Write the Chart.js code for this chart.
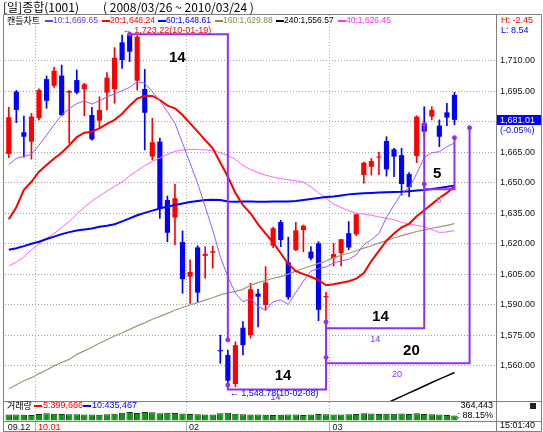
<!DOCTYPE html>
<html>
<head>
<meta charset="utf-8">
<script src="https://cdn.jsdelivr.net/npm/chart.js@4.4.1/dist/chart.umd.min.js"></script>
<style>
  html, body { margin: 0; padding: 0; background: #fff; }
  #wrap { position: relative; width: 543px; height: 432px; }
</style>
</head>
<body>
<div id="wrap"><canvas id="priceChart" width="543" height="432"></canvas></div>
<script>
// ---- data ----
const labels = [
  '09.12.24','09.12.28','09.12.29','09.12.30',
  '10.01.04','10.01.05','10.01.06','10.01.07','10.01.08','10.01.11','10.01.12','10.01.13','10.01.14','10.01.15',
  '10.01.18','10.01.19','10.01.20','10.01.21','10.01.22','10.01.25','10.01.26','10.01.27','10.01.28','10.01.29',
  '10.02.01','10.02.02','10.02.03','10.02.04','10.02.05','10.02.08','10.02.09','10.02.10','10.02.11','10.02.12',
  '10.02.16','10.02.17','10.02.18','10.02.19','10.02.22','10.02.23','10.02.24','10.02.25','10.02.26',
  '10.03.02','10.03.03','10.03.04','10.03.05','10.03.08','10.03.09','10.03.10','10.03.11','10.03.12',
  '10.03.15','10.03.16','10.03.17','10.03.18','10.03.19','10.03.22','10.03.23','10.03.24',
  '10.03.25','10.03.26','10.03.29','10.03.30','10.03.31'
]

const open  = [1664.2,1694.9,1674.9,1670.3,1681.8,1701.1,1697.8,1702.8,1694.4,1700.6,1696.1,1683.4,1680.6,1694.4,1696.1,1719.2,1722.8,1700.3,1696.2,1662.9,
               1670.3,1641.5,1632.9,1620.8,1603.8,1618.2,1614.0,1615.6,1567.6,1565.2,1550.9,1578.6,1575.0,1595.4,1589.8,1619.0,1630.7,1610.8,1616.9,1626.7,
               1616.1,1620.2,1593.6,1612.8,1615.3,1625.2,1624.6,1653.8,1657.9,1662.4,1670.6,1666.5,1663.6,1654.3,1663.2,1679.3,1682.6,1678.2,1684.7,1693.3]
const high  = [1687.2,1695.5,1682.9,1684.2,1696.3,1702.6,1706.9,1708.0,1695.5,1705.6,1699.0,1687.2,1692.4,1704.3,1716.6,1722.8,1723.22,1722.5,1705.9,1681.8,
               1672.0,1643.5,1649.4,1626.3,1612.0,1619.0,1618.5,1618.8,1575.0,1567.6,1571.7,1581.6,1600.5,1597.5,1608.7,1628.2,1631.5,1623.2,1630.5,1629.2,
               1618.6,1621.0,1596.0,1620.2,1622.2,1630.9,1634.5,1660.2,1662.0,1665.0,1672.7,1667.0,1667.0,1655.0,1683.0,1687.5,1687.5,1681.0,1689.2,1694.6]
const low   = [1662.4,1679.6,1662.6,1661.6,1681.0,1686.7,1697.0,1683.0,1669.5,1693.8,1683.0,1671.0,1676.8,1685.9,1689.2,1706.4,1709.7,1695.7,1666.2,1661.2,
               1632.5,1621.0,1619.4,1595.6,1590.6,1591.4,1603.0,1607.9,1561.1,1548.78,1549.5,1565.2,1573.5,1579.0,1587.3,1618.0,1618.5,1592.6,1616.5,1616.0,
               1612.0,1582.1,1581.6,1609.0,1609.0,1617.0,1624.0,1649.8,1653.8,1654.0,1653.3,1653.0,1644.0,1643.2,1659.9,1672.7,1681.0,1667.8,1678.2,1678.5]
const close = [1682.3,1685.9,1672.7,1682.6,1695.7,1690.4,1705.2,1683.4,1695.2,1694.4,1698.5,1671.4,1685.9,1701.8,1711.6,1710.5,1714.6,1722.0,1684.5,1670.0,
               1637.4,1625.4,1642.4,1602.5,1606.1,1595.9,1615.0,1616.3,1567.0,1552.5,1570.0,1570.0,1597.5,1593.9,1600.8,1627.6,1621.8,1593.6,1626.6,1628.9,
               1612.8,1587.4,1594.2,1614.9,1622.2,1618.1,1634.5,1659.9,1660.7,1662.9,1656.6,1662.9,1649.4,1647.8,1682.6,1675.2,1685.9,1672.7,1682.1,1681.01]

const ma10 = [1659,1662,1663,1664,1668.5,1673.5,1678.5,1683.5,1686.5,1689,1690.3,1688.8,1690.4,1692.4,1693.7,1695.4,1697,1699.8,1699,1694.9,
              1690.3,1685,1679.3,1669.5,1659.6,1649.8,1638.2,1626.7,1613.6,1603.7,1595.6,1591.4,1593,1589,1587.3,1591.4,1592.3,1590,1596,1601.5,
              1606.5,1607.7,1608.5,1610.5,1611.5,1612.3,1614.5,1619.5,1622,1625,1633,1639,1644.8,1647.5,1654.5,1662.5,1664.8,1665.3,1667.8,1669.65]
const ma20 = [1632,1638,1646.5,1650.5,1655.5,1658.8,1662,1664.8,1668.5,1672.5,1674.7,1675.2,1676.8,1679,1681,1684,1688,1691.5,1692.8,1692.8,
              1690.8,1688,1686.7,1683.4,1679.3,1675.2,1671,1667,1660,1653,1645,1639,1635,1629.5,1625,1620.5,1615.3,1610,1606.5,1605,
              1603.7,1602,1599.5,1600,1600.8,1601.5,1602.8,1605.5,1611.5,1616.5,1621.5,1625,1628,1629.8,1633.5,1636.5,1639.5,1642.5,1645,1648.24]
const ma60 = [1617,1617.8,1618.8,1620,1621,1622.3,1623.5,1624.7,1625.7,1626.5,1627,1627.5,1628.3,1628.8,1629.6,1631,1632.5,1634,1635.2,1636.3,
              1637.3,1638.3,1639,1639.8,1640.5,1641,1641.5,1641.6,1641.5,1640.8,1640.7,1640.8,1640.8,1640.7,1640.7,1640.8,1640.8,1640.8,1641,1641.5,
              1642,1642.5,1643,1643.3,1643.8,1644.3,1644.6,1644.8,1645,1645.2,1645.4,1645.5,1645.6,1645.8,1646.2,1646.5,1647,1647.5,1648,1648.61]
const ma160 = [1548.5,1550.5,1552.5,1554,1556,1557.8,1559.8,1561.5,1563,1565.5,1567.2,1569,1571,1572.7,1574.5,1576,1577.8,1579.5,1581,1582.8,
               1584.2,1585.7,1587.2,1588.6,1589.8,1591,1592.2,1593.4,1594.8,1595.8,1596.5,1597.5,1599.5,1600.8,1601.8,1603,1603.8,1605,1606.5,1607.8,
               1609,1610.3,1611.5,1613,1614.3,1615.3,1616.5,1617.8,1619,1620.3,1621.5,1622.8,1624,1625,1626,1626.8,1627.6,1628.3,1629,1629.88]
const ma240 = [null,null,null,null,null,null,null,null,null,null,null,null,null,null,null,null,null,null,null,null,
               null,null,null,null,null,null,null,null,null,null,null,null,null,null,null,null,null,null,null,null,
               null,null,null,null,null,null,null,1536.5,1538,1539.7,1541.4,1543.1,1544.8,1546.5,1548.2,1549.9,1551.6,1553.3,1554.9,1556.57]
const ma40 = [1609,1611,1613.5,1617,1620,1622.5,1625,1628,1631,1634.5,1638,1641,1643.5,1646,1648.2,1650.5,1653.5,1656,1658.5,1660.5,
              1662.3,1664,1665.5,1666.2,1666.5,1666.4,1666.2,1665.8,1664.8,1663.5,1661.5,1658.5,1656.5,1655,1653.8,1652.8,1652,1651.5,1651,1650.3,
              1648,1645,1642.5,1639.5,1637.8,1636.2,1635,1634.6,1634,1633.2,1632.5,1631.8,1630.5,1629.8,1629,1628.4,1627,1625.5,1625.8,1626.45]

// volume in thousands of shares
const volume = [420,430,410,400,470,520,480,460,450,440,430,420,410,450,480,560,600,540,610,590,
                520,560,540,500,470,450,430,420,520,560,480,440,430,420,410,400,410,430,420,400,
                420,470,440,420,430,440,460,520,500,470,490,480,500,470,510,460,450,420,400,364]

const yTicks = [1560,1575,1590,1605,1620,1635,1650,1665,1680,1695,1710]
const xTickIdx = [0, 4, 24, 43]
const xTickText = ['09.12', '10.01', '02', '03']

// cycle count drawings (category index / price)
const cycleIdx   = [[16,29,29],[29,29,42,42],[42,42,55,55],[42,42,61,61],[55,55,59,59]]
const cyclePrice = [[1723.22,1723.22,1572.6],[1550.4,1548.2,1548.2,1581.4],[1581.4,1578.3,1578.3,1678.8],[1564.0,1561.1,1561.1,1677.1],[1649.4,1646.8,1646.8,1672.2]]
const dotIdx   = [16,29,29,42,42,55,55,59,61]
const dotPrice = [1723.22,1572.6,1550.4,1581.4,1564.0,1678.8,1649.4,1672.2,1677.1]
const countText  = ['14','14','14','20','5']
const countIdx   = [22.3,36.3,49.2,53.3,56.7]
const countPrice = [1711.7,1554.8,1584,1567,1654.3]
const smallText  = ['14','14','20','5']
const smallIdx   = [35.3,48.5,51.4,57.0]
const smallPrice = [1544,1573,1555.8,1641.5]

// ---- chart ----
const KR = '"Noto Sans CJK KR", sans-serif'
const NUM = '"Liberation Sans", Arial, sans-serif'
const UP = '#FF0000', DOWN = '#0000FF', CYC = '#9030F0'
const candleColor = open.map((o, i) => close[i] >= o ? UP : DOWN)

const fmt = v => v.toLocaleString('en-US', { minimumFractionDigits: 2, maximumFractionDigits: 2 })

function maLine(data, color, width, order) {
  return { type: 'line', data: data, borderColor: color, borderWidth: width, pointRadius: 0,
           tension: 0, order: order, yAxisID: 'y', clip: { left: 0, top: 0, right: 0, bottom: -20 } }
}

const datasets = [
  { type: 'bar', data: low.map((l, i) => [l, high[i]]), backgroundColor: candleColor, barThickness: 1,
    grouped: false, order: 21, yAxisID: 'y' },
  { type: 'bar', data: open.map((o, i) => [o, close[i]]), backgroundColor: candleColor, barPercentage: 0.68,
    categoryPercentage: 1, grouped: false, minBarLength: 1, order: 20, yAxisID: 'y' },
  { type: 'bar', data: volume, backgroundColor: '#0A9A0A', borderColor: '#123A12', borderWidth: 1,
    barPercentage: 0.85, categoryPercentage: 1, grouped: false, order: 22, yAxisID: 'yv' },
  maLine(ma160, '#9C9A78', 1.2, 12),
  maLine(ma40, '#FF66FF', 1, 11),
  maLine(ma240, '#000000', 1.5, 10),
  maLine(ma60, '#0000FF', 2, 9),
  maLine(ma20, '#FF0000', 2, 8),
  maLine(ma10, '#9A5CF5', 1, 7)
]
cycleIdx.forEach((idx, k) => {
  datasets.push({ type: 'line', data: idx.map((ix, j) => ({ x: labels[ix], y: cyclePrice[k][j] })),
    borderColor: CYC, borderWidth: 2, pointRadius: 0, tension: 0, order: 2, yAxisID: 'y' })
})
datasets.push({ type: 'line', data: dotIdx.map((ix, j) => ({ x: labels[ix], y: dotPrice[j] })),
  showLine: false, pointRadius: 2, pointBackgroundColor: CYC, pointBorderColor: CYC, order: 1, yAxisID: 'y' })

const deco = {
  id: 'deco',
  beforeDraw(chart) {
    const ctx = chart.ctx
    ctx.save()
    ctx.fillStyle = '#fff'
    ctx.fillRect(0, 0, chart.width, chart.height)
    ctx.restore()
  },
  afterDraw(chart) {
    const ctx = chart.ctx
    const x = chart.scales.x, y = chart.scales.y
    ctx.save()
    // frame
    ctx.strokeStyle = '#808080'
    ctx.lineWidth = 1
    ctx.beginPath()
    ctx.moveTo(3.5, 14.5); ctx.lineTo(541.5, 14.5)
    ctx.moveTo(3.5, 14.5); ctx.lineTo(3.5, 431.5)
    ctx.moveTo(541.5, 14.5); ctx.lineTo(541.5, 431.5)
    ctx.moveTo(3.5, 431.5); ctx.lineTo(541.5, 431.5)
    ctx.moveTo(496.5, 14.5); ctx.lineTo(496.5, 431.5)
    ctx.moveTo(3.5, 401.5); ctx.lineTo(541.5, 401.5)
    ctx.moveTo(3.5, 421.5); ctx.lineTo(541.5, 421.5)
    ctx.stroke()

    ctx.textBaseline = 'middle'
    // title
    ctx.fillStyle = '#000'
    ctx.font = '12px ' + KR
    ctx.fillText('[일]종합(1001)', 3, 7)
    ctx.fillText('( 2008/03/26 ~ 2010/03/24 )', 103, 7)

    // legend row
    ctx.font = '9px ' + KR
    ctx.fillText('캔들차트', 7, 21)
    const leg = [['10:1,669.65', '#6A3CF0', 45], ['20:1,648.24', '#FF0000', 102], ['60:1,648.61', '#0000FF', 158],
                 ['160:1,629.88', '#8A8A50', 215], ['240:1,556.57', '#000000', 276], ['40:1,626.45', '#FF33FF', 338]]
    ctx.font = '8.5px ' + NUM
    leg.forEach(([t, c, lx]) => {
      ctx.fillStyle = c
      ctx.fillRect(lx, 20, 8, 2)
      ctx.fillText(t, lx + 8, 21)
    })
    ctx.font = '9px ' + NUM
    ctx.fillStyle = '#FF0000'
    ctx.fillText('H: -2.45', 501, 21)
    ctx.fillStyle = '#0000FF'
    ctx.fillText('L: 8.54', 501, 31)

    // last price box
    ctx.fillStyle = '#0000FF'
    ctx.fillRect(497, 115, 44, 10)
    ctx.fillStyle = '#FFFFFF'
    ctx.fillText(fmt(close[close.length - 1]), 500, 120.5)
    ctx.fillStyle = '#0000FF'
    ctx.fillText('(-0.05%)', 500, 131)

    // high / low labels
    ctx.fillStyle = '#FF0000'
    ctx.fillText('\u2190 ' + fmt(1723.22) + '(10-01-19)', x.getPixelForValue(16) - 7, 31)
    ctx.fillStyle = '#0000FF'
    ctx.fillText('\u2190 ' + fmt(1548.78) + '(10-02-08)', x.getPixelForValue(29) + 2, 394)

    // cycle counts
    ctx.textAlign = 'center'
    ctx.fillStyle = '#000'
    ctx.font = 'bold 15px ' + NUM
    countText.forEach((t, k) => ctx.fillText(t, x.getPixelForValue(countIdx[k]), y.getPixelForValue(countPrice[k])))
    ctx.font = '9px ' + NUM
    smallText.forEach((t, k) => {
      ctx.fillStyle = t === '5' ? '#CC66FF' : CYC
      ctx.fillText(t, x.getPixelForValue(smallIdx[k]), y.getPixelForValue(smallPrice[k]))
    })

    // volume row
    ctx.textAlign = 'left'
    ctx.fillStyle = '#000'
    ctx.font = '9px ' + KR
    ctx.fillText('거래량', 7, 406)
    ctx.font = '9px ' + NUM
    ctx.fillStyle = '#FF0000'
    ctx.fillRect(34, 405, 8, 2)
    ctx.fillText('5:399,666', 43, 406)
    ctx.fillStyle = '#0000FF'
    ctx.fillRect(83, 405, 8, 2)
    ctx.fillText('10:435,467', 92, 406)
    ctx.textAlign = 'right'
    ctx.fillStyle = '#000'
    ctx.fillText('364,443', 493, 406)
    ctx.fillText(': 88.15%', 493, 416)
    ctx.textAlign = 'left'
    ctx.fillText('15:01:40', 500, 426)
    ctx.fillStyle = '#222'
    ctx.fillRect(530, 403, 6, 6)
    ctx.restore()
  }
}

Chart.defaults.font.family = NUM
Chart.defaults.font.size = 9

const chart = new Chart(document.getElementById('priceChart').getContext('2d'), {
  type: 'bar',
  data: { labels: labels, datasets: datasets },
  options: {
    responsive: false,
    animation: false,
    devicePixelRatio: 1,
    layout: { padding: { top: 15, left: 3.5, right: 0, bottom: 0 } },
    plugins: { legend: { display: false }, tooltip: { enabled: false } },
    scales: {
      x: {
        type: 'category',
        offset: true,
        afterFit: s => { s.height = 11 },
        border: { display: false, dash: [1, 2] },
        grid: {
          offset: true,
          drawTicks: true,
          tickLength: 10,
          color: c => (c.index === 4 || c.index === 24 || c.index === 43) ? '#B0B0B0' : 'rgba(0,0,0,0)'
        },
        ticks: {
          autoSkip: false, maxRotation: 0, minRotation: 0, padding: -9, align: 'start',
          labelOffset: c => c.index === 0 ? -4 : -1,
          color: c => c.index === 4 ? '#FF0000' : '#111',
          callback: (v, i) => { const k = xTickIdx.indexOf(i); return k >= 0 ? xTickText[k] : '' }
        }
      },
      y: {
        position: 'right',
        min: 1532.66,
        max: 1732.66,
        afterFit: s => { s.width = 47 },
        afterBuildTicks: s => { s.ticks = yTicks.map(v => ({ value: v })) },
        border: { display: false, dash: [1, 2] },
        grid: { color: '#A0A0A0', drawTicks: false },
        ticks: { padding: 4, color: '#111', callback: v => v === 1680 ? '' : fmt(v) }
      },
      yv: {
        display: false,
        min: -36,
        max: 28964
      }
    }
  },
  plugins: [deco]
})
</script>
</body>
</html>
